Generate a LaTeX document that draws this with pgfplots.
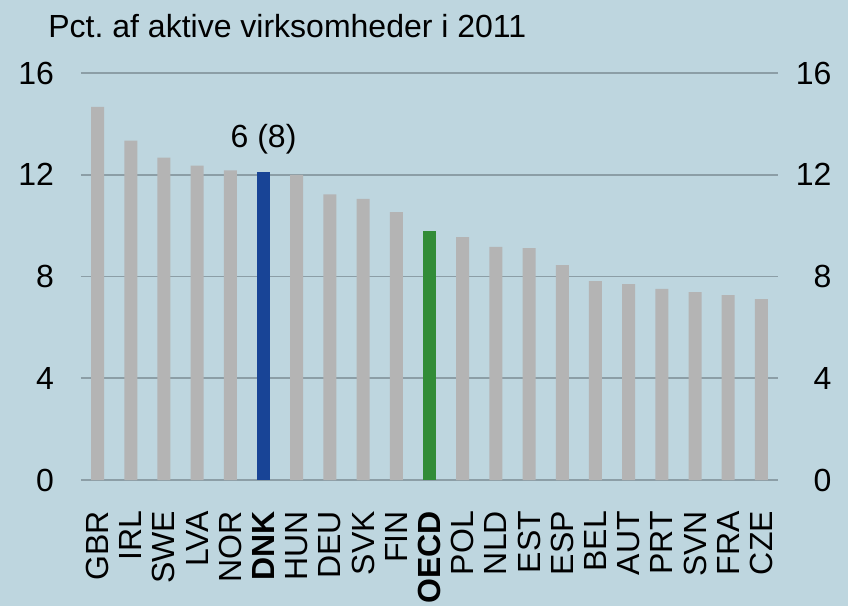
\documentclass[border=0pt]{standalone}
\usepackage{pgfplots}
\pgfplotsset{compat=1.18}
\usepackage{fontspec}
\setmainfont{Liberation Sans}
\definecolor{bg}{RGB}{190,214,223}
\definecolor{barg}{RGB}{180,180,180}
\definecolor{bardk}{RGB}{24,68,150}
\definecolor{baroecd}{RGB}{50,140,55}
\definecolor{gridc}{RGB}{140,158,166}
\newcommand{\lbl}{\fontsize{16}{19}\selectfont}

\begin{document}
\begin{tikzpicture}
\fill[bg] (0,0) rectangle (424pt,303pt);
\useasboundingbox (0,0) rectangle (424pt,303pt);
\node[anchor=base west, inner sep=0, font=\lbl] at (24pt,284pt) {Pct.\ af aktive virksomheder i 2011};
\begin{axis}[
  at={(40.5pt,63pt)}, anchor=south west,
  scale only axis, width=348.5pt, height=203.5pt,
  xmin=-0.5, xmax=20.5, ymin=0, ymax=16,
  ytick={0,4,8,12,16},
  xtick={0,...,20},
  xticklabels={GBR,IRL,SWE,LVA,NOR,\textbf{DNK},HUN,DEU,SVK,FIN,\textbf{OECD},POL,NLD,EST,ESP,BEL,AUT,PRT,SVN,FRA,CZE},
  xticklabel style={rotate=90, anchor=east, font=\lbl, xshift=-12pt},
  yticklabel style={font=\lbl, xshift=-10pt},
  /pgf/number format/assume math mode=true,
  axis line style={draw=none},
  major tick length=0pt,
  ymajorgrids, grid style={draw=gridc, line width=0.8pt},
  ybar, bar width=6.5pt, bar shift=0pt,
  clip=false,
]
\addplot[fill=barg, draw=none] coordinates {
 (0,14.67) (1,13.34) (2,12.67) (3,12.36) (4,12.17) (6,12.0) (7,11.23) (8,11.05) (9,10.53)
 (11,9.55) (12,9.16) (13,9.12) (14,8.45) (15,7.82) (16,7.70) (17,7.51) (18,7.39) (19,7.27) (20,7.11)};
\addplot[fill=bardk, draw=none] coordinates {(5,12.12)};
\addplot[fill=baroecd, draw=none] coordinates {(10,9.79)};
\node[font=\lbl] at (axis cs:5,13.4) {6 (8)};
\end{axis}
\begin{axis}[
  at={(40.5pt,63pt)}, anchor=south west,
  scale only axis, width=348.5pt, height=203.5pt,
  xmin=-0.5, xmax=20.5, ymin=0, ymax=16,
  ytick={0,4,8,12,16},
  axis y line*=right, axis x line=none,
  axis line style={draw=none},
  major tick length=0pt,
  yticklabel style={font=\lbl, anchor=east, xshift=30.3pt},
  /pgf/number format/assume math mode=true,
]
\end{axis}
\end{tikzpicture}
\end{document}
